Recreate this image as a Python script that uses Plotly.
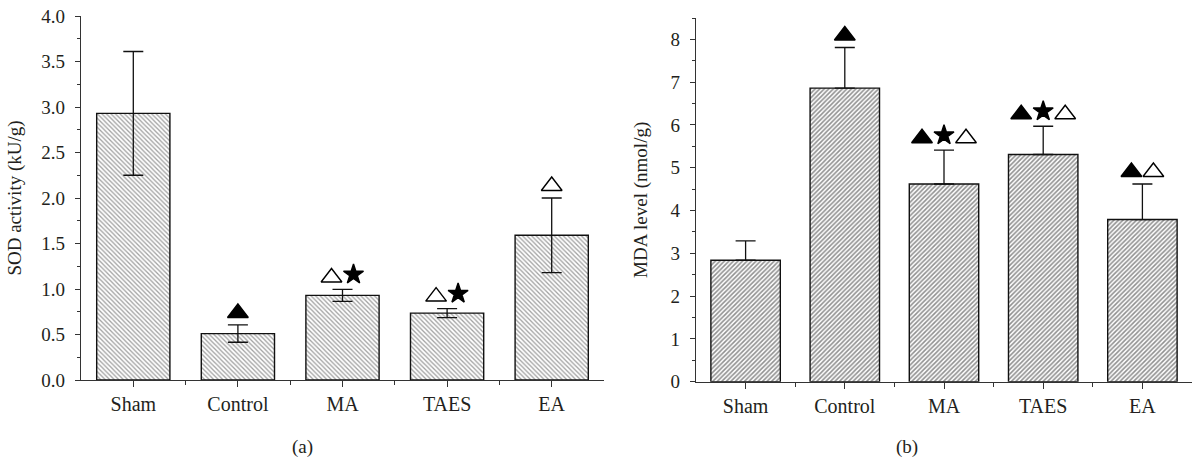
import plotly.graph_objects as go

# ---------------- data ----------------
groups = ["Sham", "Control", "MA", "TAES", "EA"]

sod_mean = [2.93, 0.51, 0.93, 0.735, 1.59]
sod_err = [0.68, 0.095, 0.065, 0.05, 0.41]
sod_marks = ["", "▲", "△★", "△★", "△"]

mda_mean = [2.84, 6.86, 4.62, 5.31, 3.79]
mda_err = [0.45, 0.95, 0.79, 0.66, 0.83]
mda_marks = ["", "▲", "▲★△", "▲★△", "▲△"]

sod_ticks = [0.0, 0.5, 1.0, 1.5, 2.0, 2.5, 3.0, 3.5, 4.0]
mda_ticks = [0, 1, 2, 3, 4, 5, 6, 7, 8]

# ---------------- styling ----------------
W, H = 1192, 460
OFF = 0  # page body margin removed via post_script
FONT = "Liberation Serif"
FS = 19
AX = "#333333"
TXT = "#231f20"


def px_x(v):
    return (v - OFF) / W


def px_y(v):
    return 1 - (v - OFF) / H


dom_a_x = [px_x(81), px_x(604)]
dom_a_y = [px_y(380), px_y(16)]
dom_b_x = [px_x(696), px_x(1192)]
dom_b_y = [px_y(381.7), px_y(18)]
rng_a = [0, 4.0]
rng_b = [0, 8.5]

sym_map = {"▲": ("triangle-up", 18, 0), "△": ("triangle-up-open", 18, 0), "★": ("star", 15, 3)}

fig = go.Figure()


def add_panel(means, errs, marks, xa, ya, shape, solidity, fg, sym_err, dom_x, dom_y, rng):
    xs = list(range(len(groups)))
    fig.add_trace(go.Bar(
        x=xs, y=means, width=0.70, xaxis=xa, yaxis=ya,
        marker=dict(color="white", line=dict(color="#111111", width=1.4),
                    pattern=dict(shape=shape, size=3.2, solidity=solidity,
                                 fgcolor=fg, bgcolor="white", fillmode="overlay")),
        error_y=dict(type="data", array=errs, symmetric=sym_err,
                     arrayminus=None if sym_err else [0] * len(errs),
                     color="#111111", thickness=1.3, width=10),
        showlegend=False, hoverinfo="skip",
    ))
    plot_h = (dom_y[1] - dom_y[0]) * H
    plot_w = (dom_x[1] - dom_x[0]) * W
    upp = (rng[1] - rng[0]) / plot_h  # data units per pixel
    xpp = 5.0 / plot_w
    spacing = 22
    for i, m in enumerate(marks):
        n = len(m)
        for j, ch in enumerate(m):
            sym, size, extra = sym_map[ch]
            dx = (j - (n - 1) / 2) * spacing * xpp
            y = means[i] + errs[i] + (12 + extra) * upp
            fig.add_trace(go.Scatter(
                x=[i + dx], y=[y], mode="markers", xaxis=xa, yaxis=ya,
                marker=dict(symbol=sym, size=size, color="black",
                            line=dict(color="black", width=1.4)),
                cliponaxis=False, showlegend=False, hoverinfo="skip",
            ))


add_panel(sod_mean, sod_err, sod_marks, "x", "y", "\\", 0.4, "#444444", True, dom_a_x, dom_a_y, rng_a)
add_panel(mda_mean, mda_err, mda_marks, "x2", "y2", "/", 0.5, "#222222", False, dom_b_x, dom_b_y, rng_b)

xcommon = dict(
    range=[-0.5, 4.5], tickmode="array", tickvals=list(range(5)), ticktext=groups,
    showline=True, linecolor=AX, linewidth=1.3, ticks="outside", ticklen=6,
    tickwidth=1.2, tickcolor=AX, showgrid=False, zeroline=False, automargin=False,
    tickfont=dict(family=FONT, size=20, color=TXT), ticklabeloverflow="allow",
    minor=dict(tickvals=[0.5, 1.5, 2.5, 3.5], ticks="outside", ticklen=4,
               tickcolor=AX, tickwidth=1.2, showgrid=False),
)

ycommon = dict(
    automargin=False, showline=True, linecolor=AX, linewidth=1.3, ticks="outside",
    ticklen=5, tickwidth=1.2, tickcolor=AX, showgrid=False, zeroline=False,
    tickfont=dict(family=FONT, size=FS, color=TXT), ticklabeloverflow="allow",
    ticklabelstandoff=6,
)

fig.update_layout(
    width=W, height=H, margin=dict(l=0, r=0, t=0, b=0),
    paper_bgcolor="white", plot_bgcolor="white", bargap=0.3,
    xaxis=dict(domain=dom_a_x, anchor="y", **xcommon),
    xaxis2=dict(domain=dom_b_x, anchor="y2", **xcommon),
    yaxis=dict(
        domain=dom_a_y, anchor="x", range=rng_a, tickmode="array", tickvals=sod_ticks,
        ticktext=[f"{v:.1f}" for v in sod_ticks],
        minor=dict(dtick=0.25, ticks="outside", ticklen=3, tickcolor=AX, tickwidth=1.2),
        title=dict(text="SOD activity (kU/g)", font=dict(family=FONT, size=FS, color=TXT), standoff=14),
        **ycommon,
    ),
    yaxis2=dict(
        domain=dom_b_y, anchor="x2", range=rng_b, tickmode="array", tickvals=mda_ticks,
        minor=dict(dtick=0.5, ticks="outside", ticklen=3, tickcolor=AX, tickwidth=1.2),
        title=dict(text="MDA level (nmol/g)", font=dict(family=FONT, size=FS, color=TXT), standoff=17),
        **ycommon,
    ),
    annotations=[
        dict(text="(a)", x=px_x(302), y=px_y(447), xref="paper", yref="paper",
             xanchor="center", yanchor="middle",
             showarrow=False, font=dict(family=FONT, size=FS, color=TXT)),
        dict(text="(b)", x=px_x(907), y=px_y(447), xref="paper", yref="paper",
             xanchor="center", yanchor="middle",
             showarrow=False, font=dict(family=FONT, size=FS, color=TXT)),
    ],
)

fig.write_html("out.html", config={"displayModeBar": False},
               post_script="document.body.style.margin='0px';")
